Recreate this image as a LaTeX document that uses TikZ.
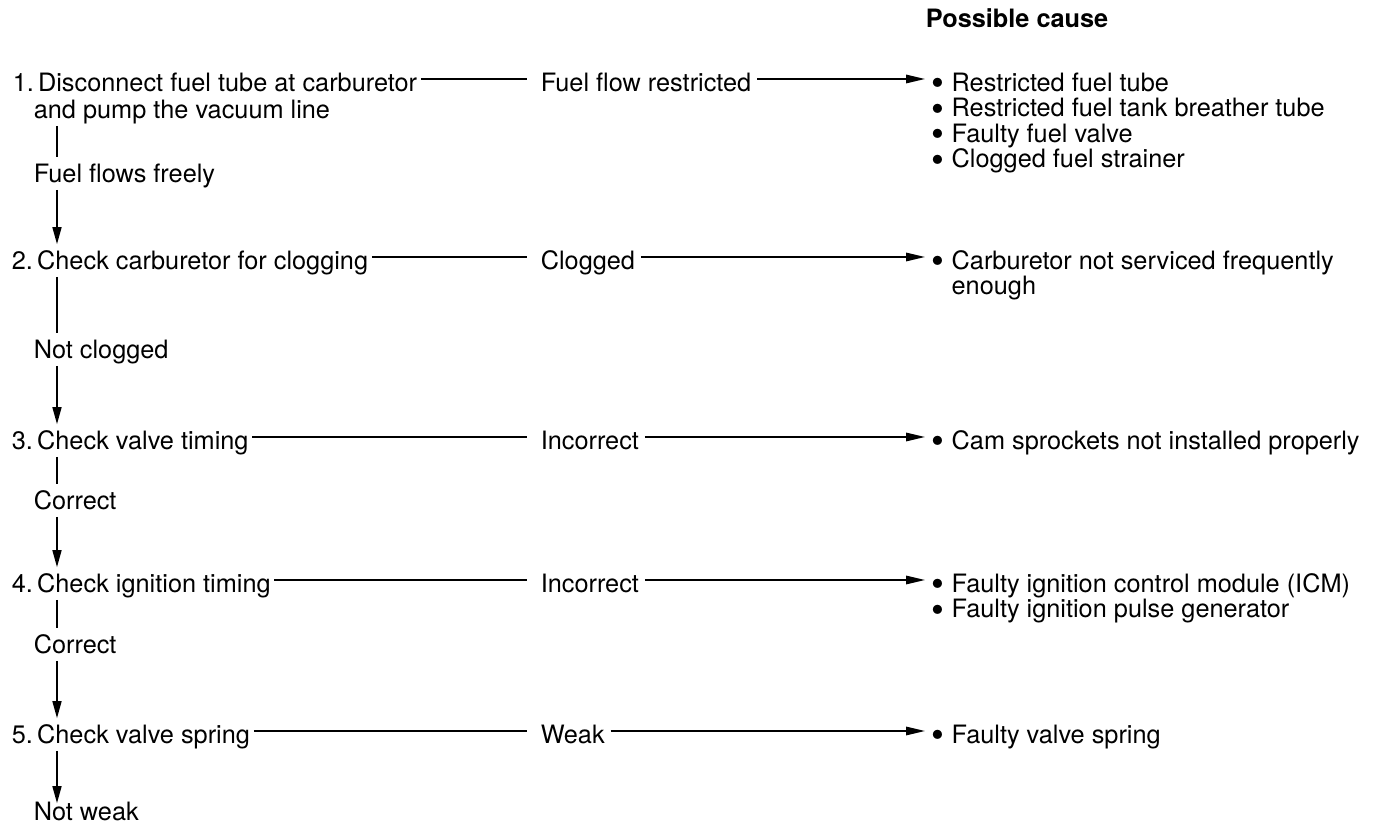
\documentclass[tikz,border=0pt]{standalone}
\usepackage{fontspec}
\usepackage{graphicx}
\setmainfont{TeX Gyre Heros}
\usetikzlibrary{arrows.meta}
\newcommand{\bul}{\raisebox{-2.6pt}{\scalebox{1.45}{\textbullet}}\ }

\begin{document}
\begin{tikzpicture}[x=0.2mm,y=-0.2mm,font=\fontsize{14.4pt}{17pt}\selectfont,line width=0.9pt]
\tikzset{txt/.style={anchor=west, inner sep=0pt, text height=13.7pt, text depth=0pt}}
\tikzset{hseg/.style={shorten <=0.6mm, shorten >=2.6mm}}
\tikzset{harr/.style={-{Triangle[length=3.8mm,width=1.7mm]}, shorten <=1mm, shorten >=1.2mm}}
\tikzset{vseg/.style={shorten <=1.4mm}}
\tikzset{varr/.style={-{Triangle[length=3.4mm,width=1.8mm]}, shorten <=1.4mm}}
\useasboundingbox (0,0) rectangle (1374,833);
\coordinate (X) at (57,0);
\node[txt] (H) at (925,15) {\bfseries Possible cause};
% step 1
\node[txt] (S1) at (12,79) {1.\,Disconnect fuel tube at carburetor};
\node[txt] (S1b) at (33,106) {and pump the vacuum line};
\node[txt] (L1) at (33,170) {Fuel flows freely};
\node[txt] (R1) at (540,79) {Fuel flow restricted};
\node[txt] (C1a) at (931,79) {\bul Restricted fuel tube};
\node[txt] (C1b) at (931,104.5) {\bul Restricted fuel tank breather tube};
\node[txt] (C1c) at (931,130) {\bul Faulty fuel valve};
\node[txt] (C1d) at (931,155.5) {\bul Clogged fuel strainer};
% step 2
\node[txt] (S2) at (11,257) {2.\,Check carburetor for clogging};
\node[txt] (L2) at (33,346) {Not clogged};
\node[txt] (R2) at (540,257) {Clogged};
\node[txt] (C2a) at (931,257) {\bul Carburetor not serviced frequently};
\node[txt] (C2b) at (931,282) {\phantom{\bul}enough};
% step 3
\node[txt] (S3) at (11,437) {3.\,Check valve timing};
\node[txt] (L3) at (33,497) {Correct};
\node[txt] (R3) at (540,437) {Incorrect};
\node[txt] (C3) at (931,437) {\bul Cam sprockets not installed properly};
% step 4
\node[txt] (S4) at (11,580) {4.\,Check ignition timing};
\node[txt] (L4) at (33,641) {Correct};
\node[txt] (R4) at (540,580) {Incorrect};
\node[txt] (C4a) at (931,580) {\bul Faulty ignition control module (ICM)};
\node[txt] (C4b) at (931,605.5) {\bul Faulty ignition pulse generator};
% step 5
\node[txt] (S5) at (11,731) {5.\,Check valve spring};
\node[txt] (L5) at (33,808) {Not weak};
\node[txt] (R5) at (540,731) {Weak};
\node[txt] (C5) at (931,731) {\bul Faulty valve spring};
% connectors
\draw[hseg] (S1) -- (R1);
\draw[harr] (R1) -- (C1a);
\draw[vseg] (S1b.south -| X) -- (L1.north -| X);
\draw[varr] (L1.south -| X) -- (S2.north -| X);
\draw[hseg] (S2) -- (R2);
\draw[harr] (R2) -- (C2a);
\draw[vseg] (S2.south -| X) -- (L2.north -| X);
\draw[varr] (L2.south -| X) -- (S3.north -| X);
\draw[hseg] (S3) -- (R3);
\draw[harr] (R3) -- (C3);
\draw[vseg] (S3.south -| X) -- (L3.north -| X);
\draw[varr] (L3.south -| X) -- (S4.north -| X);
\draw[hseg] (S4) -- (R4);
\draw[harr] (R4) -- (C4a);
\draw[vseg] (S4.south -| X) -- (L4.north -| X);
\draw[varr] (L4.south -| X) -- (S5.north -| X);
\draw[hseg] (S5) -- (R5);
\draw[harr] (R5) -- (C5);
\draw[varr,shorten >=-1.6mm] (S5.south -| X) -- (L5.north -| X);
\end{tikzpicture}
\end{document}
